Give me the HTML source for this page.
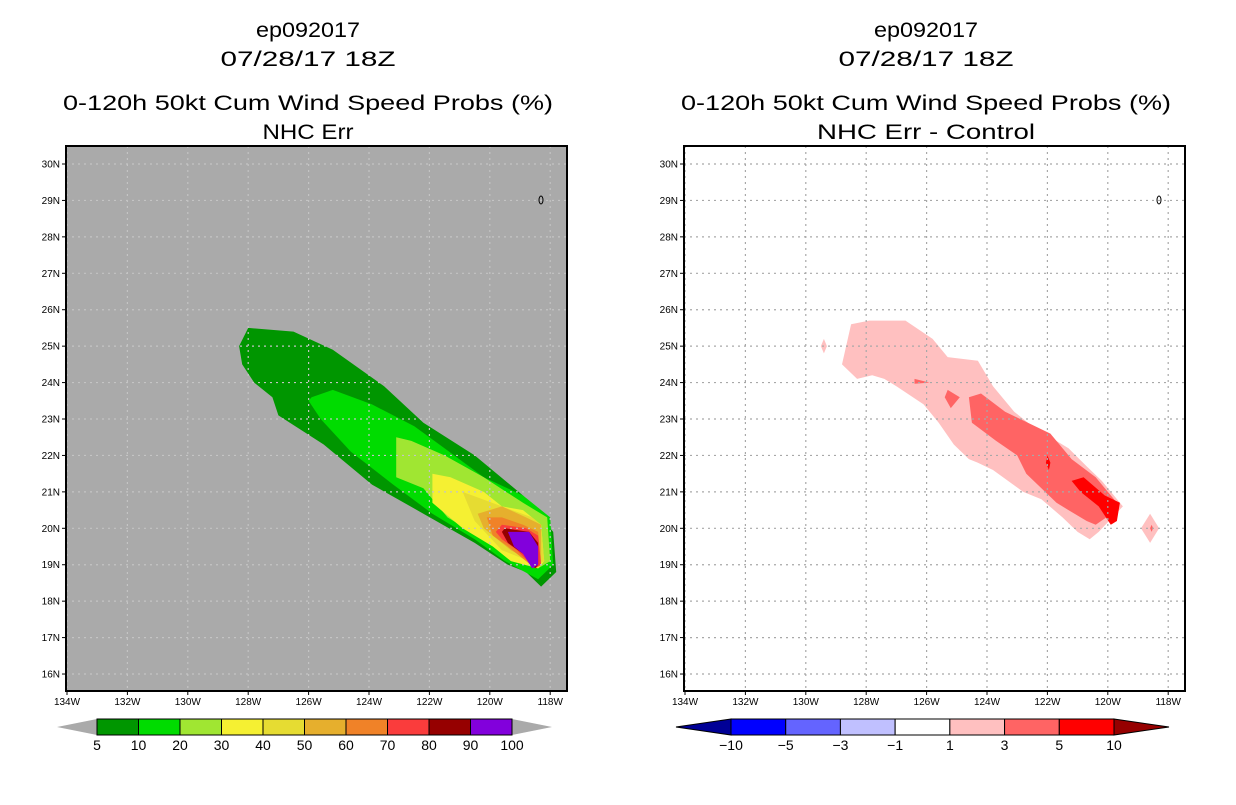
<!DOCTYPE html>
<html><head><meta charset="utf-8"><style>
body{margin:0;background:#fff;}
svg text{font-family:"Liberation Sans",sans-serif;}
</style></head><body>
<svg id="s" width="1236" height="800" xmlns="http://www.w3.org/2000/svg">
<g font-size="21" text-anchor="middle" fill="#000" lengthAdjust="spacingAndGlyphs">
<text x="308" y="37" textLength="104" lengthAdjust="spacingAndGlyphs">ep092017</text>
<text x="308" y="66" textLength="175" lengthAdjust="spacingAndGlyphs">07/28/17 18Z</text>
<text x="308" y="110" textLength="490" lengthAdjust="spacingAndGlyphs">0-120h 50kt Cum Wind Speed Probs (%)</text>
<text x="308" y="139" textLength="91" lengthAdjust="spacingAndGlyphs">NHC Err</text>
<text x="926" y="37" textLength="104" lengthAdjust="spacingAndGlyphs">ep092017</text>
<text x="926" y="66" textLength="175" lengthAdjust="spacingAndGlyphs">07/28/17 18Z</text>
<text x="926" y="110" textLength="490" lengthAdjust="spacingAndGlyphs">0-120h 50kt Cum Wind Speed Probs (%)</text>
<text x="926" y="139" textLength="218" lengthAdjust="spacingAndGlyphs">NHC Err - Control</text>
</g>
<g id="L"></g><g id="R"></g>
</svg>
<script>
// ---- data ----
const lonTicks=[-134,-132,-130,-128,-126,-124,-122,-120,-118];
const latTicks=[16,17,18,19,20,21,22,23,24,25,26,27,28,29,30];
const leftLevels=[5,10,20,30,40,50,60,70,80,90,100];
const leftColors=["#009600","#00dc00","#a0e632","#f5f032","#e6dc32","#e6af2d","#f08228","#fa3c3c","#960000","#8200dc"];
const rightLevels=[-10,-5,-3,-1,1,3,5,10];
const rightColors=["#000096","#0000ff","#6464ff","#c0c0ff","#ffffff","#ffc0c0","#ff6464","#ff0000","#960000"];
// contour polygons as [lon,lat] vertex lists (level index -> shapes)
const leftPolys=[
 [0,[[-128.3,25.0],[-128.0,25.5],[-126.5,25.4],[-125.2,24.9],[-123.5,23.9],[-122.2,22.9],[-120.5,22.0],[-118.9,20.9],[-118.4,20.4],[-117.9,19.9],[-117.8,18.8],[-118.3,18.4],[-118.8,18.8],[-119.4,19.0],[-120.5,19.6],[-122.2,20.4],[-123.9,21.2],[-125.5,22.3],[-127.0,23.1],[-127.2,23.6],[-127.8,24.0],[-128.2,24.5]]],
 [1,[[-125.9,23.6],[-125.2,23.8],[-123.9,23.4],[-122.5,22.8],[-121.5,22.2],[-120.2,21.4],[-118.9,20.9],[-118.0,20.3],[-117.9,19.0],[-118.4,18.6],[-119.5,19.1],[-120.5,19.7],[-121.9,20.4],[-123.2,21.2],[-124.6,22.1],[-125.6,23.0],[-126.0,23.5]]],
 [2,[[-123.1,22.5],[-122.6,22.4],[-121.5,22.0],[-120.2,21.4],[-118.9,20.7],[-118.1,20.3],[-118.0,19.1],[-118.4,18.9],[-119.4,19.3],[-120.2,19.7],[-121.4,20.3],[-122.2,21.1],[-123.1,21.4]]],
 [3,[[-121.9,21.5],[-121.3,21.4],[-120.2,21.0],[-119.6,20.6],[-118.9,20.5],[-118.3,20.1],[-118.2,19.1],[-118.4,18.9],[-119.3,19.1],[-119.9,19.5],[-120.9,20.0],[-121.9,20.7]]],
 [4,[[-120.9,21.0],[-119.6,20.6],[-118.6,20.3],[-118.3,20.1],[-118.2,19.1],[-118.4,19.0],[-119.6,19.4],[-120.5,20.2]]],
 [5,[[-120.4,20.4],[-119.6,20.6],[-118.8,20.3],[-118.3,20.1],[-118.3,19.1],[-118.4,19.0],[-119.3,19.4],[-120.2,20.0]]],
 [6,[[-120.1,20.3],[-119.6,20.3],[-118.9,20.1],[-118.4,19.9],[-118.3,19.0],[-118.5,18.9],[-119.4,19.5],[-119.9,19.8]]],
 [7,[[-119.8,19.9],[-119.6,20.1],[-118.8,20.0],[-118.4,19.8],[-118.3,19.0],[-118.5,18.9],[-119.1,19.4],[-119.6,19.7]]],
 [8,[[-119.6,19.9],[-119.5,20.0],[-118.7,19.9],[-118.4,19.6],[-118.4,19.0],[-118.5,18.9],[-118.9,19.3],[-119.4,19.6]]],
 [9,[[-119.4,19.9],[-118.7,19.9],[-118.4,19.5],[-118.4,19.0],[-118.6,18.9],[-118.9,19.3],[-119.2,19.5]]]
];
const rightPolys=[
 [5,[[-128.8,24.5],[-128.5,25.6],[-127.9,25.7],[-126.7,25.7],[-125.8,25.2],[-125.3,24.7],[-124.3,24.6],[-123.8,23.9],[-123.1,23.2],[-122.5,22.8],[-121.3,22.2],[-120.7,21.7],[-120.2,21.3],[-119.5,20.6],[-120.3,19.9],[-120.6,19.7],[-121.0,19.9],[-121.5,20.3],[-122.2,20.8],[-122.8,21.0],[-123.8,21.6],[-124.3,21.8],[-124.6,21.9],[-125.1,22.3],[-125.6,22.9],[-126.1,23.4],[-127.0,23.9],[-127.4,24.1],[-127.8,24.2],[-128.3,24.1]]],
 [5,[[-129.5,25.0],[-129.4,24.8],[-129.3,25.0],[-129.4,25.2]]],
 [5,[[-118.9,20.0],[-118.6,19.6],[-118.3,20.0],[-118.6,20.4]]],
 [6,[[-124.6,23.6],[-124.2,23.7],[-123.4,23.2],[-121.9,22.6],[-121.2,21.9],[-120.4,21.4],[-119.7,20.7],[-119.7,20.5],[-120.4,20.1],[-120.7,20.2],[-121.3,20.5],[-121.7,20.7],[-122.2,21.1],[-122.7,21.5],[-123.0,22.0],[-123.7,22.4],[-124.5,22.9]]],
 [6,[[-125.4,23.6],[-125.2,23.3],[-124.9,23.6],[-125.3,23.8]]],
 [6,[[-126.4,24.1],[-125.9,24.0],[-126.4,23.97]]],
 [6,[[-118.6,20.0],[-118.55,19.9],[-118.5,20.0],[-118.55,20.1]]],
 [7,[[-121.2,21.3],[-120.8,21.4],[-120.1,20.9],[-119.6,20.7],[-119.7,20.2],[-119.9,20.1],[-120.3,20.6],[-120.9,21.0]]],
 [7,[[-122.0,22.0],[-121.9,21.8],[-121.95,21.6],[-122.05,21.8]]]
];
// ---- axes ----
const X0=67, DX=30.2, Y0=164, DY=36.43;
function xs(lon,off){return off+X0+(lon+134)*DX;}
function ys(lat){return Y0+(30-lat)*DY;}
const NS="http://www.w3.org/2000/svg";
function mk(tag,attrs,parent){const e=document.createElementNS(NS,tag);for(const k in attrs)e.setAttribute(k,attrs[k]);parent.appendChild(e);return e;}

function panel(g,off,bg,polys,colors,gridColor,levels,cbColors,cbX0,cbX1,side){
  const bx=off+66,by=146,bw=501,bh=545;
  const b=mk('rect',{x:bx,y:by,width:bw,height:bh,fill:bg},g);
  
  
  const cp=mk('clipPath',{id:'c'+side},g);mk('rect',{x:bx,y:by,width:bw,height:bh},cp);
  const pg=mk('g',{'clip-path':'url(#c'+side+')'},g);
  polys.forEach((p,i)=>{
    const pts=p[1].map(v=>xs(v[0],off).toFixed(1)+','+ys(v[1]).toFixed(1)).join(' ');
    const e=mk('polygon',{points:pts,fill:colors[p[0]]},pg);
    
    
  });
  lonTicks.forEach(l=>{
    const x=xs(l,off);
    const e=mk('line',{x1:x,y1:by,x2:x,y2:by+bh,stroke:gridColor,'stroke-dasharray':'2,4','stroke-width':1.2},pg);
    
    
    mk('line',{x1:x,y1:by+bh,x2:x,y2:by+bh+4,stroke:'#000'},g);
    const t=mk('text',{x:x,y:by+bh+14,'font-size':10,'text-anchor':'middle'},g);
    t.textContent=(-l)+'W';
    
    
  });
  latTicks.forEach(l=>{
    const y=ys(l);
    const e=mk('line',{x1:bx,y1:y,x2:bx+bw,y2:y,stroke:gridColor,'stroke-dasharray':'2,4','stroke-width':1.2},pg);
    
    
    mk('line',{x1:bx-4,y1:y,x2:bx,y2:y,stroke:'#000'},g);
    const t=mk('text',{x:bx-6,y:y+3.5,'font-size':10,'text-anchor':'end'},g);
    t.textContent=l+'N';
    
    
  });
  const isl=mk('ellipse',{cx:off+541,cy:200,rx:2,ry:4,fill:'none',stroke:'#000','stroke-width':1},g);
  
  
  const fr=mk('rect',{x:bx,y:by,width:bw,height:bh,fill:'none',stroke:'#000','stroke-width':2},g);
  
  
  // colorbar
  const cy=719,ch=16;
  const n=cbColors.length;
  const cols=side==='left'?cbColors:cbColors.slice(1,n-1);
  const seg=(cbX1-cbX0)/cols.length;
  const cb=mk('g',{},g);
  
  
  let lt,rt;
  if(side==='left'){lt='#aaaaaa';rt='#aaaaaa';}else{lt=cbColors[0];rt=cbColors[n-1];}
  const tw=side==='left'?40:55;
  mk('polygon',{points:`${cbX0},${cy} ${cbX0-tw},${cy+ch/2} ${cbX0},${cy+ch}`,fill:lt,stroke:side==='left'?'none':'#000'},cb);
  mk('polygon',{points:`${cbX1},${cy} ${cbX1+tw},${cy+ch/2} ${cbX1},${cy+ch}`,fill:rt,stroke:side==='left'?'none':'#000'},cb);
  cols.forEach((c,i)=>{
    const e=mk('rect',{x:cbX0+i*seg,y:cy,width:seg,height:ch,fill:c,stroke:'#000','stroke-width':1},cb);
    
    
  });
  levels.forEach((v,i)=>{
    const x=cbX0+i*seg;
    const t=mk('text',{x:x,y:cy+ch+15,'font-size':14,'text-anchor':'middle'},cb);
    t.textContent=v<0?'\u2212'+(-v):v;
    
    
  });
}
panel(document.getElementById('L'),0,'#aaaaaa',leftPolys,leftColors,'#c4c4c4',leftLevels,leftColors,97,512,'left');
panel(document.getElementById('R'),618,'#ffffff',rightPolys,rightColors,'#a8a8a8',rightLevels,rightColors,731,1114,'right');
</script>
</body></html>
